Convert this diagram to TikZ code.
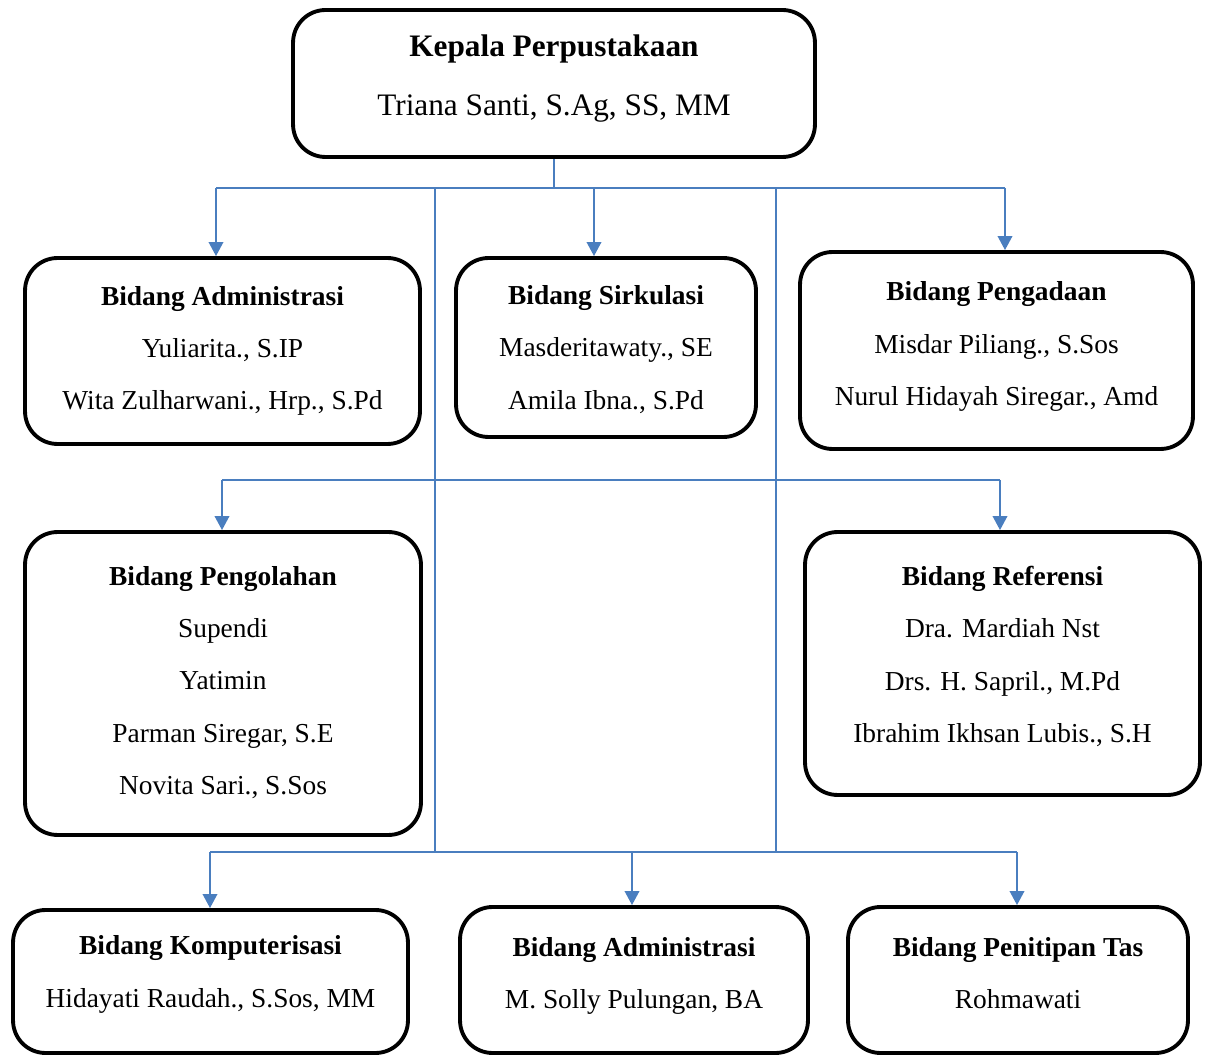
\documentclass[tikz,border=0pt]{standalone}
\usepackage{fontspec}
\setmainfont{Liberation Serif}
\usetikzlibrary{arrows.meta}
\definecolor{linkBlue}{RGB}{74,126,191}
\newcommand{\rowFont}{\fontsize{15.6}{29.8}\selectfont}
\newcommand{\headFont}{\fontsize{17.8}{34}\selectfont}

\begin{document}
\begin{tikzpicture}[x=0.02cm, y=-0.02cm,
   unit/.style={draw, line width=2.2pt, rounded corners=0.65cm},
   staff/.style={align=center, inner sep=0pt, font=\rowFont},
   link/.style={draw=linkBlue, line width=1.1pt},
   arr/.style={link, -{Triangle[length=0.28cm, width=0.29cm]}}]
         \useasboundingbox (0,0) rectangle (1208,1057);

         \node[unit, minimum width=10.44cm, minimum height=2.94cm] (kepala) at (554,83.5) {};
         \node[staff, font=\headFont] (kepala-txt) at ([yshift=0.1cm]kepala.center)
            {\textbf{Kepala Perpustakaan}\\ Triana Santi, S.Ag, SS, MM};

         \node[unit, minimum width=7.9cm, minimum height=3.72cm] (adm1) at (222.5,351) {};
         \node[staff] (adm1-txt) at (adm1.center)
            {\textbf{Bidang Administrasi}\\ Yuliarita., S.IP\\ Wita Zulharwani., Hrp., S.Pd};
         \node[unit, minimum width=6.0cm, minimum height=3.58cm] (sirk) at (606,347.5) {};
         \node[staff] (sirk-txt) at ([yshift=-0.04cm]sirk.center)
            {\textbf{Bidang Sirkulasi}\\ Masderitawaty., SE\\ Amila Ibna., S.Pd};
         \node[unit, minimum width=7.86cm, minimum height=3.94cm] (peng) at (996.5,350.5) {};
         \node[staff] (peng-txt) at ([yshift=0.08cm]peng.center)
            {\textbf{Bidang Pengadaan}\\ Misdar Piliang., S.Sos\\ Nurul Hidayah Siregar., Amd};

         \node[unit, minimum width=7.92cm, minimum height=6.06cm] (olah) at (223,683.5) {};
         \node[staff] (olah-txt) at ([yshift=0.02cm]olah.center)
            {\textbf{Bidang Pengolahan}\\ Supendi\\ Yatimin\\ Parman Siregar, S.E\\ Novita Sari., S.Sos};
         \node[unit, minimum width=7.9cm, minimum height=5.26cm] (ref) at (1002.5,663.5) {};
         \node[staff] (ref-txt) at ([yshift=0.14cm]ref.center)
            {\textbf{Bidang Referensi}\\ Dra. Mardiah Nst\\ Drs. H. Sapril., M.Pd\\ Ibrahim Ikhsan Lubis., S.H};

         \node[unit, minimum width=7.9cm, minimum height=2.86cm] (komp) at (210.5,981.5) {};
         \node[staff] (komp-txt) at ([yshift=0.14cm]komp.center)
            {\textbf{Bidang Komputerisasi}\\ Hidayati Raudah., S.Sos, MM};
         \node[unit, minimum width=6.96cm, minimum height=2.92cm] (adm2) at (634,980) {};
         \node[staff] (adm2-txt) at ([yshift=0.08cm]adm2.center)
            {\textbf{Bidang Administrasi}\\ M. Solly Pulungan, BA};
         \node[unit, minimum width=6.8cm, minimum height=2.92cm] (tas) at (1018,980) {};
         \node[staff] (tas-txt) at ([yshift=0.14cm]tas.center)
            {\textbf{Bidang Penitipan Tas}\\ Rohmawati};

         \coordinate (t1) at (216,188);
         \coordinate (t2) at (1005,188);
         \coordinate (t3) at (594,188);
         \coordinate (v1) at (435,188);
         \coordinate (v2) at (776,188);
         \coordinate (m1) at (222,480);
         \coordinate (m2) at (1000,480);
         \coordinate (b1) at (210,852);
         \coordinate (b2) at (1017,852);
         \coordinate (b3) at (632,852);

         \draw[link] (kepala.south) -- (kepala.south |- t1);
         \draw[link] (t1) -- (t2);
         \draw[link] (m1) -- (m2);
         \draw[link] (b1) -- (b2);
         \draw[link] (v1) -- (v1 |- b1);
         \draw[link] (v2) -- (v2 |- b1);

         \foreach \from/\to in {t1/adm1, t3/sirk, t2/peng, m1/olah, m2/ref, b1/komp, b3/adm2, b2/tas}
         {%
            \draw[arr] (\from) -- (\from |- \to.north);
         }
      \end{tikzpicture}
\end{document}
